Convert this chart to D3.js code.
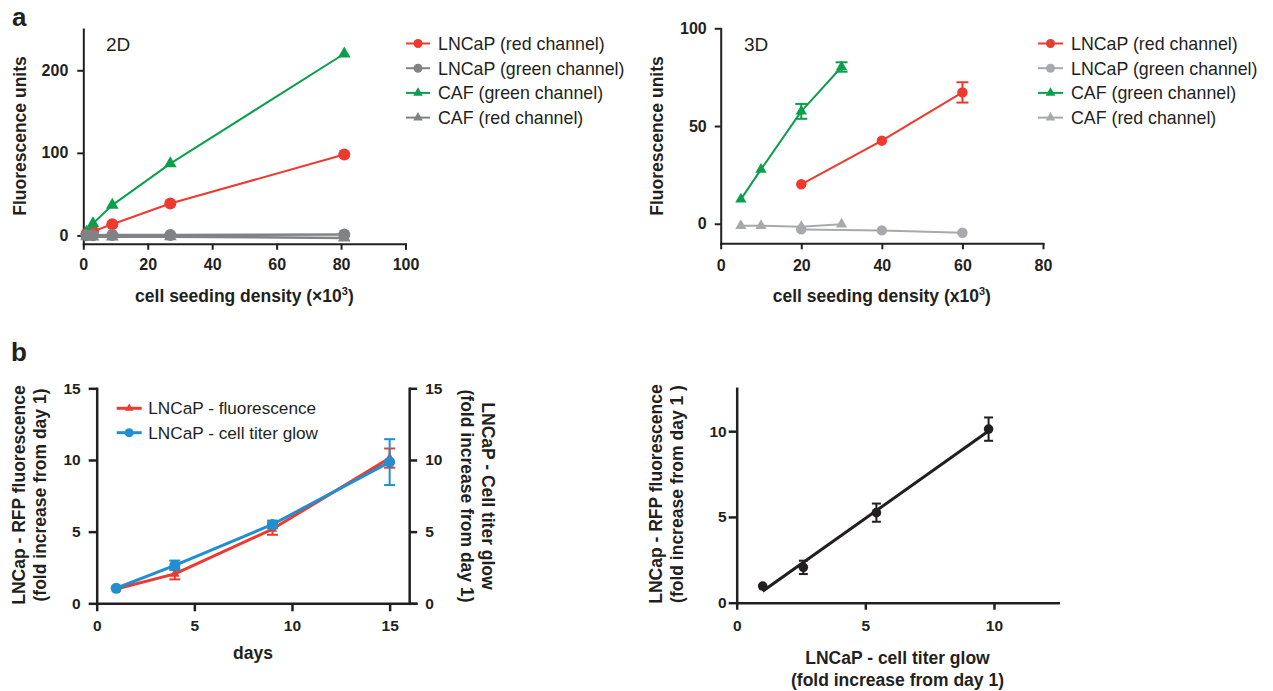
<!DOCTYPE html>
<html><head><meta charset="utf-8">
<script src="https://cdn.jsdelivr.net/npm/d3@7"></script>
<style>body{margin:0;background:#fff}svg{display:block}</style>
</head><body><svg id="c" width="1273" height="691"></svg>
<script>
// ---------- DATA ----------
// Panel a, 2D
const density2D = [1, 3, 9, 27, 81];
const lncapRed2D = [2, 5, 13.5, 38.7, 98];
const lncapGreen2D = [0.3, 0.3, 0.4, 0.6, 1.2];
const cafGreen2D = [4, 14.5, 36.7, 87, 220];
const cafRed2D = [-1.5, -1.7, -1.7, -1.5, -3];
const xTicks2D = [0, 20, 40, 60, 80, 100];
const yTicks2D = [0, 100, 200];
// Panel a, 3D
const lncapDensity3D = [20, 40, 60];
const lncapRed3D = [20.2, 42.5, 67.2];
const lncapRedErr3D = [0, 0, 5.2];
const lncapGreen3D = [-2.9, -3.4, -4.6];
const cafDensity3D = [5, 10, 20, 30];
const cafGreen3D = [12.5, 27.8, 57.5, 80.2];
const cafGreenErr3D = [0, 0, 3.8, 2.4];
const cafRed3D = [-1, -1, -1.5, -0.3];
const xTicks3D = [0, 20, 40, 60, 80];
const yTicks3D = [0, 50, 100];
const legendLabels = ["LNCaP (red channel)", "LNCaP (green channel)", "CAF (green channel)", "CAF (red channel)"];
// Panel b, left
const days = [1, 4, 9, 15];
const fluorescence = [1.0, 2.05, 5.18, 10.13];
const fluorescenceErr = [0, 0.38, 0.4, 0.67];
const titerGlow = [1.05, 2.65, 5.5, 9.85];
const titerGlowErr = [0, 0.33, 0.27, 1.6];
const dayTicks = [0, 5, 10, 15];
const foldTicks = [0, 5, 10, 15];
// Panel b, right
const glowX = [1.01, 2.59, 5.43, 9.79];
const rfpY = [0.97, 2.06, 5.25, 10.12];
const rfpErr = [0, 0.39, 0.53, 0.68];
const corrTicks = [0, 5, 10];

// ---------- STYLE ----------
const FONT = '"Liberation Sans", Arial, Helvetica, sans-serif';
const BLACK = "#231f20", RED = "#ee3a2e", GREEN = "#0aa04b", GRAY2 = "#808285", GRAY3 = "#a7a9ac", BLUE = "#1f8fd2";
const svg = d3.select("#c").attr("font-family", FONT);

function styleAxis(sel, fs, lw) {
  sel.attr("font-family", FONT);
  sel.select("path.domain").attr("stroke", BLACK).attr("stroke-width", lw).attr("stroke-linecap", "square");
  sel.selectAll(".tick line").attr("stroke", BLACK).attr("stroke-width", lw);
  sel.selectAll(".tick text").attr("fill", BLACK).attr("font-size", fs).attr("font-weight", "bold");
}

function series(g, xs, ys, errs, x, y, color, shape, size, lw, capW) {
  const pts = xs.map((d, i) => ({ x: d, y: ys[i], e: errs ? errs[i] : 0 }));
  if (lw > 0) g.append("path").datum(pts).attr("fill", "none").attr("stroke", color).attr("stroke-width", lw)
    .attr("stroke-linejoin", "round")
    .attr("d", d3.line().x(d => x(d.x)).y(d => y(d.y)));
  const eb = g.append("g").attr("stroke", color).attr("stroke-width", 2);
  pts.filter(d => d.e > 0).forEach(d => {
    const cx = x(d.x);
    eb.append("line").attr("x1", cx).attr("x2", cx).attr("y1", y(d.y - d.e)).attr("y2", y(d.y + d.e));
    [d.y - d.e, d.y + d.e].forEach(v => eb.append("line").attr("x1", cx - capW / 2).attr("x2", cx + capW / 2).attr("y1", y(v)).attr("y2", y(v)));
  });
  if (shape === "circle") {
    g.selectAll(null).data(pts).join("circle").attr("cx", d => x(d.x)).attr("cy", d => y(d.y)).attr("r", size).attr("fill", color);
  } else if (shape === "triangle") {
    const sym = d3.symbol(d3.symbolTriangle, size)();
    g.selectAll(null).data(pts).join("path").attr("d", sym).attr("transform", d => `translate(${x(d.x)},${y(d.y)})`).attr("fill", color);
  }
}

function legend(g, x0, x1, tx, y0, step, items, fs, lw, csize, tsize) {
  items.forEach((it, i) => {
    const yy = y0 + i * step;
    g.append("line").attr("x1", x0).attr("x2", x1).attr("y1", yy).attr("y2", yy).attr("stroke", it.color).attr("stroke-width", lw);
    const cx = (x0 + x1) / 2;
    if (it.shape === "circle") g.append("circle").attr("cx", cx).attr("cy", yy).attr("r", csize).attr("fill", it.color);
    else g.append("path").attr("d", d3.symbol(d3.symbolTriangle, tsize)()).attr("transform", `translate(${cx},${yy})`).attr("fill", it.color);
    g.append("text").attr("x", tx).attr("y", yy + fs * 0.36).attr("font-size", fs).attr("fill", BLACK).text(it.label);
  });
}

function rotLabel(g, x, y, angle, lines, fs, gap, weight) {
  const t = g.append("text").attr("transform", `translate(${x},${y}) rotate(${angle})`)
    .attr("text-anchor", "middle").attr("font-size", fs).attr("font-weight", weight).attr("fill", BLACK);
  lines.forEach((l, i) => t.append("tspan").attr("x", 0).attr("y", i * gap).text(l));
}

// ---------- Panel letters ----------
svg.append("text").attr("x", 12).attr("y", 26).attr("font-size", 26).attr("font-weight", "bold").attr("fill", BLACK).text("a");
svg.append("text").attr("x", 11).attr("y", 361).attr("font-size", 26).attr("font-weight", "bold").attr("fill", BLACK).text("b");

// ---------- Panel a 2D ----------
{
  const g = svg.append("g");
  const x = d3.scaleLinear().domain([0, 100]).range([83.3, 405.5]);
  const y = d3.scaleLinear().domain([-10, 250]).range([243.7, 29]);
  const ya = g.append("g").attr("transform", `translate(${x(0)},0)`).call(d3.axisLeft(y).tickValues(yTicks2D).tickSize(6).tickSizeOuter(0).tickPadding(9));
  styleAxis(ya, 16, 2);
  const xa = g.append("g").attr("transform", `translate(0,${y(-10)})`).call(d3.axisBottom(x).tickValues(xTicks2D).tickSize(6).tickSizeOuter(0).tickPadding(9));
  styleAxis(xa, 16, 2);
  series(g, density2D, lncapRed2D, null, x, y, RED, "circle", 6, 2, 0);
  series(g, density2D, cafGreen2D, null, x, y, GREEN, "triangle", 70, 2, 0);
  series(g, density2D, lncapGreen2D, null, x, y, GRAY2, "circle", 6, 2.5, 0);
  series(g, density2D, cafRed2D, null, x, y, GRAY2, "triangle", 70, 2.5, 0);
  g.append("text").attr("x", 106).attr("y", 50.7).attr("font-size", 19).attr("fill", BLACK).text("2D");
  rotLabel(g, 26, 136, -90, ["Fluorescence units"], 17.5, 0, "bold");
  const xl = g.append("text").attr("x", (x(0) + x(100)) / 2).attr("y", 302).attr("text-anchor", "middle")
    .attr("font-size", 17.5).attr("font-weight", "bold").attr("fill", BLACK);
  xl.append("tspan").text("cell seeding density (\u00d710");
  xl.append("tspan").attr("font-size", 11).attr("dy", -7).text("3");
  xl.append("tspan").attr("dy", 7).text(")");
  legend(g, 406, 430, 438, 43.5, 24.7, [
    { label: legendLabels[0], color: RED, shape: "circle" },
    { label: legendLabels[1], color: GRAY2, shape: "circle" },
    { label: legendLabels[2], color: GREEN, shape: "triangle" },
    { label: legendLabels[3], color: GRAY2, shape: "triangle" }], 17.8, 2, 4.5, 40);
}

// ---------- Panel a 3D ----------
{
  const g = svg.append("g");
  const x = d3.scaleLinear().domain([0, 80]).range([720.7, 1043]);
  const y = d3.scaleLinear().domain([-10, 100]).range([243.3, 28.3]);
  const ya = g.append("g").attr("transform", `translate(${x(0)},0)`).call(d3.axisLeft(y).tickValues(yTicks3D).tickSize(6).tickSizeOuter(0).tickPadding(8));
  styleAxis(ya, 16, 2);
  const xa = g.append("g").attr("transform", `translate(0,${y(-10)})`).call(d3.axisBottom(x).tickValues(xTicks3D).tickSize(6).tickSizeOuter(0).tickPadding(10));
  styleAxis(xa, 16, 2);
  series(g, cafDensity3D, cafGreen3D, cafGreenErr3D, x, y, GREEN, "triangle", 55, 2, 12);
  series(g, lncapDensity3D, lncapRed3D, lncapRedErr3D, x, y, RED, "circle", 5.2, 2, 12);
  series(g, lncapDensity3D, lncapGreen3D, null, x, y, GRAY3, "circle", 5.2, 2, 0);
  series(g, cafDensity3D, cafRed3D, null, x, y, GRAY3, "triangle", 55, 2, 0);
  g.append("text").attr("x", 744).attr("y", 50.5).attr("font-size", 19).attr("fill", BLACK).text("3D");
  rotLabel(g, 663, 136, -90, ["Fluorescence units"], 17.5, 0, "bold");
  const xl = g.append("text").attr("x", (x(0) + x(80)) / 2).attr("y", 302).attr("text-anchor", "middle")
    .attr("font-size", 17.5).attr("font-weight", "bold").attr("fill", BLACK);
  xl.append("tspan").text("cell seeding density (x10");
  xl.append("tspan").attr("font-size", 11).attr("dy", -7).text("3");
  xl.append("tspan").attr("dy", 7).text(")");
  legend(g, 1038, 1063, 1071, 43.5, 24.7, [
    { label: legendLabels[0], color: RED, shape: "circle" },
    { label: legendLabels[1], color: GRAY3, shape: "circle" },
    { label: legendLabels[2], color: GREEN, shape: "triangle" },
    { label: legendLabels[3], color: GRAY3, shape: "triangle" }], 17.8, 2, 4.5, 40);
}

// ---------- Panel b left ----------
{
  const g = svg.append("g");
  const x = d3.scaleLinear().domain([0, 16.35]).range([96.7, 416]);
  const y = d3.scaleLinear().domain([0, 15]).range([603.3, 388.3]);
  const ya = g.append("g").attr("transform", `translate(${x(0)},0)`).call(d3.axisLeft(y).tickValues(foldTicks).tickSize(8).tickSizeOuter(0).tickPadding(8));
  styleAxis(ya, 15.5, 2.5);
  const yr = g.append("g").attr("transform", `translate(${x(16)},0)`).call(d3.axisRight(y).tickValues(foldTicks).tickSize(8).tickSizeOuter(0).tickPadding(8));
  styleAxis(yr, 15.5, 2.5);
  const xa = g.append("g").attr("transform", `translate(0,${y(0)})`).call(d3.axisBottom(x).tickValues(dayTicks).tickSize(8).tickSizeOuter(0).tickPadding(9));
  styleAxis(xa, 15.5, 2.5);
  series(g, days, fluorescence, fluorescenceErr, x, y, RED, "triangle", 40, 3, 11);
  series(g, days, titerGlow, titerGlowErr, x, y, BLUE, "circle", 5.5, 3, 11);
  legend(g, 116.7, 141.7, 148.3, 408.3, 24.4, [
    { label: "LNCaP - fluorescence", color: RED, shape: "triangle" },
    { label: "LNCaP - cell titer glow", color: BLUE, shape: "circle" }], 17.2, 3, 4.5, 30);
  rotLabel(g, 24.5, 495, -90, ["LNCap - RFP fluorescence", "(fold increase from day 1)"], 17.5, 21, "bold");
  rotLabel(g, 482, 496, 90, ["LNCaP - Cell titer glow", "(fold increase from day 1)"], 17.5, 21, "bold");
  g.append("text").attr("x", (x(0) + x(16)) / 2).attr("y", 659).attr("text-anchor", "middle")
    .attr("font-size", 17.5).attr("font-weight", "bold").attr("fill", BLACK).text("days");
}

// ---------- Panel b right ----------
{
  const g = svg.append("g");
  const x = d3.scaleLinear().domain([0, 12.5]).range([736.7, 1058.3]);
  const y = d3.scaleLinear().domain([0, 12.5]).range([602.7, 388.3]);
  const ya = g.append("g").attr("transform", `translate(${x(0)},0)`).call(d3.axisLeft(y).tickValues(corrTicks).tickSize(8).tickSizeOuter(0).tickPadding(2));
  styleAxis(ya, 15.5, 2.5);
  const xa = g.append("g").attr("transform", `translate(0,${y(0)})`).call(d3.axisBottom(x).tickValues(corrTicks).tickSize(7).tickSizeOuter(0).tickPadding(10));
  styleAxis(xa, 15.5, 2.5);
  // least-squares fit through the points
  const mx = d3.mean(glowX), my = d3.mean(rfpY);
  const slope = d3.sum(glowX, (v, i) => (v - mx) * (rfpY[i] - my)) / d3.sum(glowX, v => (v - mx) ** 2);
  const icpt = my - slope * mx;
  const ext = d3.extent(glowX);
  g.append("line").attr("x1", x(ext[0])).attr("x2", x(ext[1])).attr("y1", y(icpt + slope * ext[0])).attr("y2", y(icpt + slope * ext[1]))
    .attr("stroke", BLACK).attr("stroke-width", 3);
  series(g, glowX, rfpY, rfpErr, x, y, BLACK, "none", 0, 0, 9);
  g.selectAll(null).data(glowX).join("circle").attr("cx", d => x(d)).attr("cy", (d, i) => y(rfpY[i])).attr("r", 4.8).attr("fill", BLACK);
  rotLabel(g, 662, 494, -90, ["LNCap - RFP fluorescence", "(fold increase from day 1 )"], 17.5, 21, "bold");
  const xl = g.append("text").attr("text-anchor", "middle").attr("font-size", 17.5).attr("font-weight", "bold").attr("fill", BLACK);
  xl.append("tspan").attr("x", (x(0) + x(12.5)) / 2).attr("y", 664).text("LNCaP - cell titer glow");
  xl.append("tspan").attr("x", (x(0) + x(12.5)) / 2).attr("y", 686).text("(fold increase from day 1)");
}
</script></body></html>
